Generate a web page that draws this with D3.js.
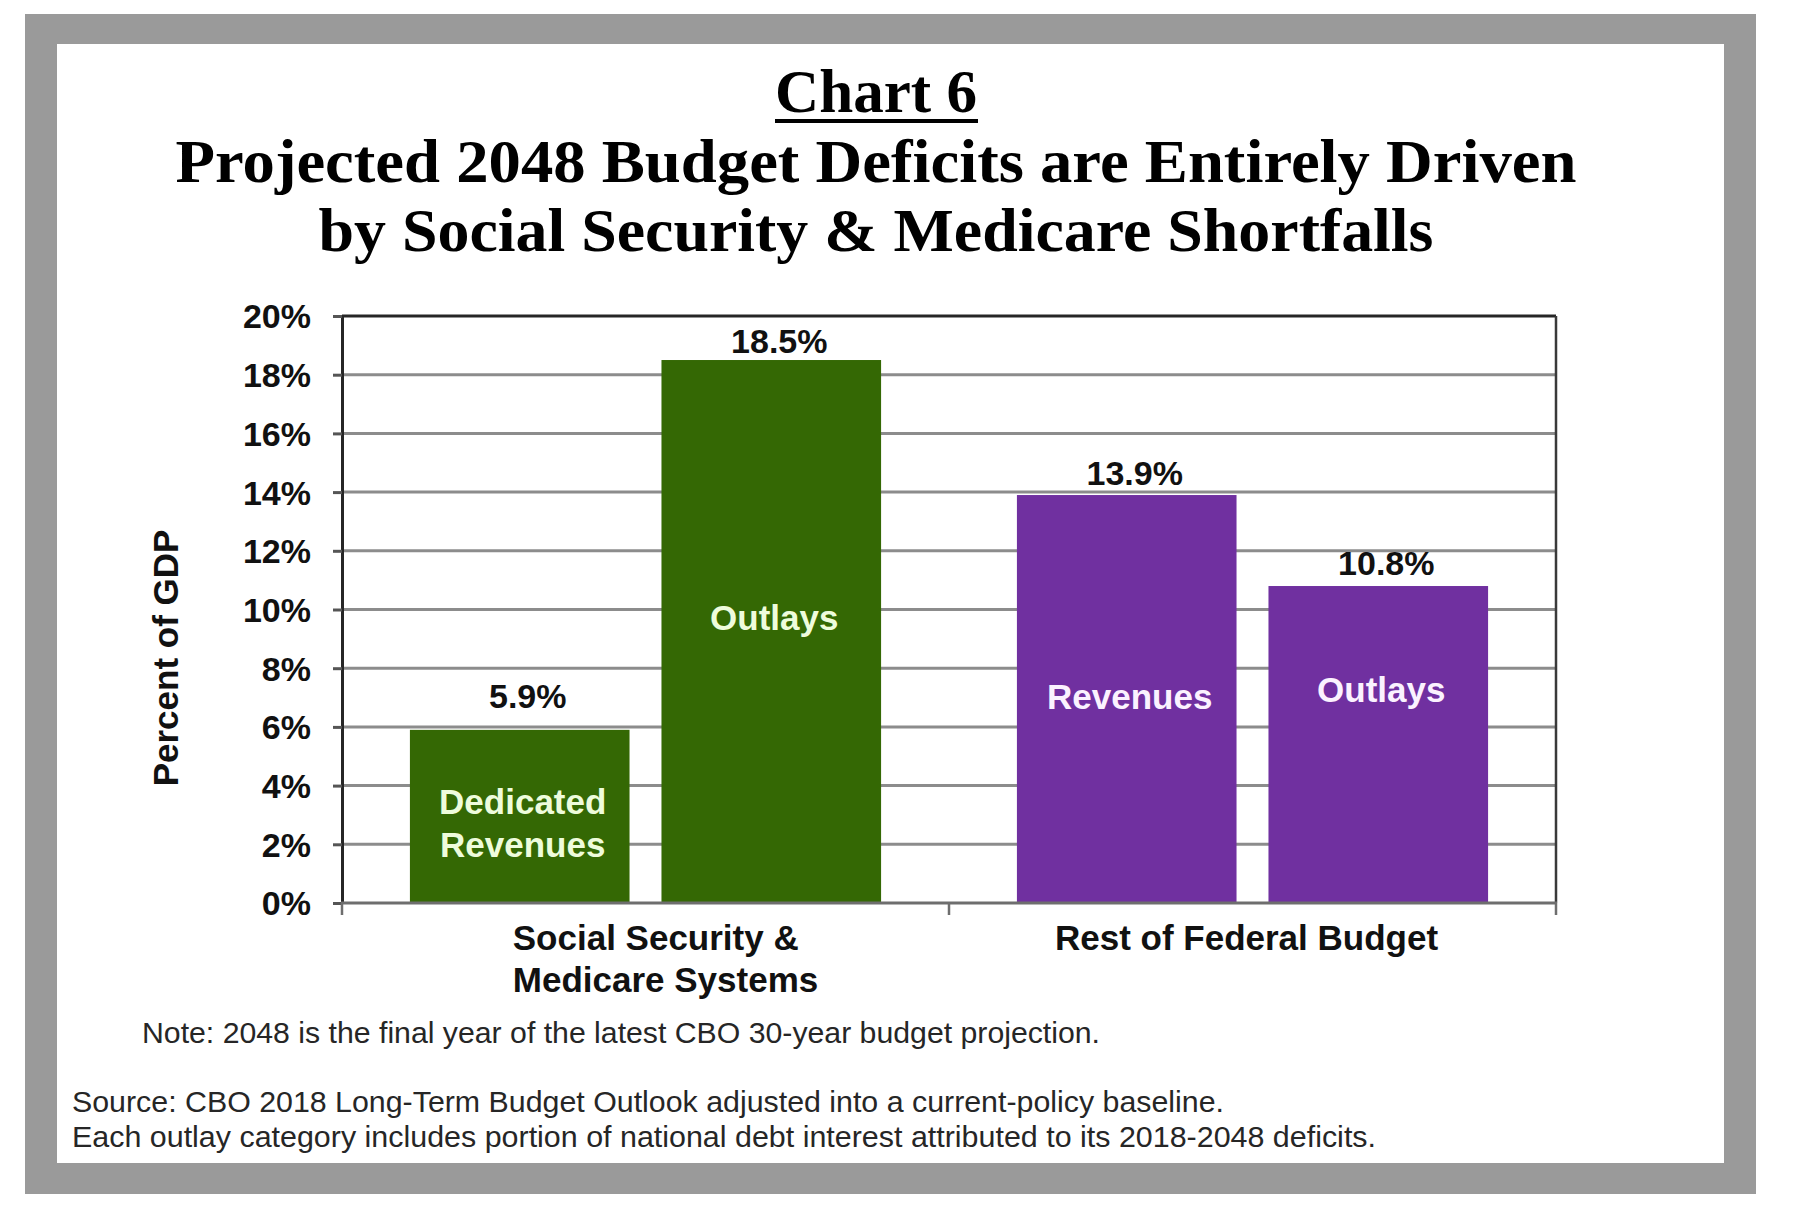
<!DOCTYPE html>
<html>
<head>
<meta charset="utf-8">
<script src="https://cdn.jsdelivr.net/npm/d3@7/dist/d3.min.js"></script>
<style>
  html, body { margin: 0; padding: 0; background: #ffffff; }
  svg { display: block; }
</style>
</head>
<body>
<svg id="chart" width="1800" height="1209"></svg>
<script>
// ---------------- DATA ----------------
const chartLabel = "Chart 6";
const titleLines = [
  "Projected 2048 Budget Deficits are Entirely Driven",
  "by Social Security & Medicare Shortfalls"
];
const groups = ["Social Security & Medicare Systems", "Rest of Federal Budget"];
const groupLabelLines = [["Social Security &", "Medicare Systems"], ["Rest of Federal Budget"]];
const barGroup = [0, 0, 1, 1];
const barSlot = ["a", "b", "a", "b"];
const barNames = [["Dedicated", "Revenues"], ["Outlays"], ["Revenues"], ["Outlays"]];
const values = [5.9, 18.5, 13.9, 10.8];
const valueLabels = ["5.9%", "18.5%", "13.9%", "10.8%"];
const yTicks = [0, 2, 4, 6, 8, 10, 12, 14, 16, 18, 20];
const yTickLabels = ["0%", "2%", "4%", "6%", "8%", "10%", "12%", "14%", "16%", "18%", "20%"];
const yAxisTitle = "Percent of GDP";
const noteLines = [
  "Note: 2048 is the final year of the latest CBO 30-year budget projection.",
  "Source: CBO 2018 Long-Term Budget Outlook adjusted into a current-policy baseline.",
  "Each outlay category includes portion of national debt interest attributed to its 2018-2048 deficits."
];

// ---------------- LAYOUT / STYLE ----------------
const W = 1800, H = 1209;
const plot = { left: 342, right: 1556, top: 316, bottom: 903 };
const barColors = ["#346804", "#346804", "#7030a0", "#7030a0"];
const innerTextColors = ["#eefcdc", "#eefcdc", "#fbf2ff", "#fbf2ff"];
const innerLabelFrac = [0.46, 0.525, 0.505, 0.672];   // where inside-bar labels sit (fraction of bar height)
const valueLabelGap = [22, 7, 10, 11];                 // gap between bar top and value label baseline
const groupLabelDx = [20, -6];
const sans = "'Liberation Sans', Arial, sans-serif";
const serif = "'Liberation Serif', 'Times New Roman', serif";

const svg = d3.select("#chart");

// Frame
svg.append("rect").attr("x", 0).attr("y", 0).attr("width", W).attr("height", H).attr("fill", "#ffffff");
svg.append("rect").attr("x", 25).attr("y", 14).attr("width", 1731).attr("height", 1180).attr("fill", "#9a9a9a");
svg.append("rect").attr("x", 57).attr("y", 44).attr("width", 1667).attr("height", 1119).attr("fill", "#ffffff");

// Title
const cx = 876;
svg.append("text")
  .attr("x", cx).attr("y", 112)
  .attr("text-anchor", "middle")
  .attr("font-family", serif).attr("font-weight", "bold").attr("font-size", 62)
  .attr("fill", "#000")
  .attr("textLength", 202).attr("lengthAdjust", "spacingAndGlyphs")
  .text(chartLabel);
svg.append("rect").attr("x", 775).attr("y", 119).attr("width", 203).attr("height", 4).attr("fill", "#000");

const titleBase = [182, 251];
const titleWidths = [1401, 1115];
titleLines.forEach((t, i) => {
  svg.append("text")
    .attr("x", cx).attr("y", titleBase[i])
    .attr("text-anchor", "middle")
    .attr("font-family", serif).attr("font-weight", "bold").attr("font-size", 62)
    .attr("fill", "#000")
    .attr("textLength", titleWidths[i]).attr("lengthAdjust", "spacingAndGlyphs")
    .text(t);
});

// Scales
const y = d3.scaleLinear().domain([0, 20]).range([plot.bottom, plot.top]);
const x0 = d3.scaleBand().domain(d3.range(groups.length)).range([plot.left, plot.right]).paddingInner(0).paddingOuter(0);
const x1 = d3.scaleBand().domain(["a", "b"]).range([0, x0.bandwidth()]).paddingInner(0.127).paddingOuter(0.27);

// Gridlines
svg.append("g").selectAll("line")
  .data(yTicks.filter(d => d > 0 && d < 20))
  .join("line")
  .attr("x1", plot.left).attr("x2", plot.right)
  .attr("y1", d => y(d)).attr("y2", d => y(d))
  .attr("stroke", "#8c8c8c").attr("stroke-width", 3);

// Bars
const bars = values.map((v, i) => ({ v, i, x: x0(barGroup[i]) + x1(barSlot[i]), w: x1.bandwidth() }));
svg.append("g").selectAll("rect")
  .data(bars)
  .join("rect")
  .attr("x", d => d.x).attr("y", d => y(d.v))
  .attr("width", d => d.w).attr("height", d => y(0) - y(d.v))
  .attr("fill", d => barColors[d.i]);

// Plot border top/right
svg.append("line").attr("x1", plot.left).attr("x2", plot.right).attr("y1", y(20)).attr("y2", y(20))
  .attr("stroke", "#262626").attr("stroke-width", 3);
svg.append("line").attr("x1", plot.right).attr("x2", plot.right).attr("y1", y(20)).attr("y2", y(0))
  .attr("stroke", "#3a3a3a").attr("stroke-width", 2.5);

// Y axis
const yAxis = d3.axisLeft(y)
  .tickValues(yTicks)
  .tickFormat(d => yTickLabels[yTicks.indexOf(d)])
  .tickSize(9).tickSizeOuter(0).tickPadding(22);
const gy = svg.append("g").attr("transform", `translate(${plot.left},0)`).call(yAxis);
gy.select(".domain").attr("stroke", "#262626").attr("stroke-width", 3);
gy.selectAll(".tick line").attr("stroke", "#555").attr("stroke-width", 3);
gy.selectAll(".tick text")
  .attr("font-family", sans).attr("font-weight", "bold").attr("font-size", 34)
  .attr("fill", "#111").attr("dy", "0.35em");

// X axis (baseline + group separators)
svg.append("line").attr("x1", plot.left - 1).attr("x2", plot.right + 1).attr("y1", y(0)).attr("y2", y(0))
  .attr("stroke", "#6e6e6e").attr("stroke-width", 3);
const boundaries = d3.range(groups.length).map(g => x0(g)).concat([plot.right]);
svg.append("g").selectAll("line")
  .data(boundaries)
  .join("line")
  .attr("x1", d => d).attr("x2", d => d)
  .attr("y1", y(0)).attr("y2", y(0) + 12)
  .attr("stroke", "#6e6e6e").attr("stroke-width", 2.5);

// Group labels
groupLabelLines.forEach((lines, g) => {
  const gcx = x0(g) + x0.bandwidth() / 2 + groupLabelDx[g];
  const t = svg.append("text")
    .attr("font-family", sans).attr("font-weight", "bold").attr("font-size", 35)
    .attr("fill", "#111");
  const spans = lines.map((ln, k) => t.append("tspan").attr("y", 950 + k * 42).text(ln));
  const maxW = d3.max(spans, s => s.node().getComputedTextLength());
  spans.forEach(s => s.attr("x", gcx - maxW / 2));
});

// Value labels
svg.append("g").selectAll("text")
  .data(bars)
  .join("text")
  .attr("x", d => d.x + d.w / 2 + 8)
  .attr("y", d => y(d.v) - valueLabelGap[d.i])
  .attr("text-anchor", "middle")
  .attr("font-family", sans).attr("font-weight", "bold").attr("font-size", 34)
  .attr("fill", "#111")
  .text(d => valueLabels[d.i]);

// Inside-bar labels
bars.forEach(d => {
  const lines = barNames[d.i];
  const lh = 43;
  const centerY = y(d.v * innerLabelFrac[d.i]);
  const firstBase = centerY - (lines.length - 1) * lh / 2 + 12;
  const t = svg.append("text")
    .attr("text-anchor", "middle")
    .attr("font-family", sans).attr("font-weight", "bold").attr("font-size", 35)
    .attr("fill", innerTextColors[d.i]);
  lines.forEach((ln, k) => {
    t.append("tspan").attr("x", d.x + d.w / 2 + 3).attr("y", firstBase + k * lh).text(ln);
  });
});

// Y axis title
svg.append("text")
  .attr("transform", "translate(178,658) rotate(-90)")
  .attr("text-anchor", "middle")
  .attr("font-family", sans).attr("font-weight", "bold").attr("font-size", 35)
  .attr("fill", "#111")
  .text(yAxisTitle);

// Notes
const noteX = [142, 72, 72];
const noteY = [1043, 1112, 1147];
const noteW = [958, 1152, 1304];
noteLines.forEach((ln, i) => {
  svg.append("text")
    .attr("x", noteX[i]).attr("y", noteY[i])
    .attr("font-family", sans).attr("font-size", 29)
    .attr("fill", "#262626")
    .attr("textLength", noteW[i]).attr("lengthAdjust", "spacingAndGlyphs")
    .text(ln);
});
</script>
</body>
</html>
